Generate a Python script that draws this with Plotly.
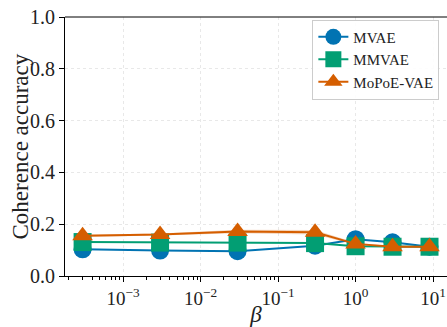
import plotly.graph_objects as go

beta = [3e-4, 3e-3, 3e-2, 3e-1, 1, 3, 9]
mvae = [0.103, 0.098, 0.096, 0.117, 0.142, 0.130, 0.113]
mmvae = [0.131, 0.129, 0.129, 0.127, 0.115, 0.113, 0.113]
mopoe = [0.155, 0.160, 0.172, 0.169, 0.124, 0.113, 0.113]
mopoe_std = [0.004, 0.004, 0.007, 0.009, 0.004, 0.002, 0.002]

names = ["MVAE", "MMVAE", "MoPoE-VAE"]
colors = ["#0173b2", "#029e73", "#d55e00"]
symbols = ["circle", "square", "triangle-up"]
series = [mvae, mmvae, mopoe]

font = "Liberation Serif"
fig = go.Figure()

# std band for MoPoE
up = [m + s for m, s in zip(mopoe, mopoe_std)]
lo = [m - s for m, s in zip(mopoe, mopoe_std)]
fig.add_trace(go.Scatter(x=beta + beta[::-1], y=up + lo[::-1], fill="toself",
                         fillcolor="rgba(213,94,0,0.25)", line=dict(width=0),
                         showlegend=False, hoverinfo="skip"))

for n, c, s, v in zip(names, colors, symbols, series):
    fig.add_trace(go.Scatter(x=beta, y=v, name=n, mode="lines+markers",
                             line=dict(color=c, width=2),
                             marker=dict(symbol=s, size=18, color=c)))

fig.update_layout(
    width=447, height=327,
    margin=dict(l=65, r=0, t=17, b=47),
    paper_bgcolor="white", plot_bgcolor="white",
    font=dict(family=font, color="#222"),
    showlegend=True,
    legend=dict(x=0.98, y=0.99, xanchor="right", yanchor="top",
                bgcolor="rgba(255,255,255,0.9)", bordercolor="#cccccc", borderwidth=1,
                font=dict(family=font, size=15, color="#222"),
                itemwidth=30, tracegroupgap=0),
    xaxis=dict(type="log", range=[-3.75, 1.18],
               tickvals=[1e-3, 1e-2, 1e-1, 1, 10],
               ticktext=["10<sup>−3</sup>", "10<sup>−2</sup>", "10<sup>−1</sup>", "10<sup>0</sup>", "10<sup>1</sup>"],
               ticks="outside", ticklen=5, tickcolor="black",
               showline=True, linecolor="black", linewidth=1, mirror=False,
               showgrid=True, gridcolor="#e8e8e8", griddash="dot", gridwidth=1,
               minor=dict(ticks="outside", ticklen=3, tickcolor="black", showgrid=False,
                          dtick="D1"),
               tickfont=dict(family=font, size=19, color="#222"),
               title=dict(text="<i>β</i>", font=dict(family=font, size=23, color="#222"), standoff=2),
               zeroline=False),
    yaxis=dict(range=[0, 1.0], tickvals=[0, 0.2, 0.4, 0.6, 0.8, 1.0], tickformat=".1f",
               ticks="outside", ticklen=5, tickcolor="black",
               showline=True, linecolor="black", linewidth=1, mirror=False,
               showgrid=True, gridcolor="#e8e8e8", griddash="dot", gridwidth=1,
               tickfont=dict(family=font, size=20, color="#222"),
               zeroline=False),
)
fig.add_annotation(text="Coherence accuracy", xref="paper", yref="paper",
                   x=-45 / 382, y=0.5, xanchor="center", yanchor="middle",
                   textangle=-90, showarrow=False,
                   font=dict(family=font, size=23, color="#222"))
# top spine
fig.add_shape(type="line", xref="paper", yref="paper", x0=0, x1=1, y0=1, y1=1,
              line=dict(color="black", width=1))

fig.write_html("out.html")
